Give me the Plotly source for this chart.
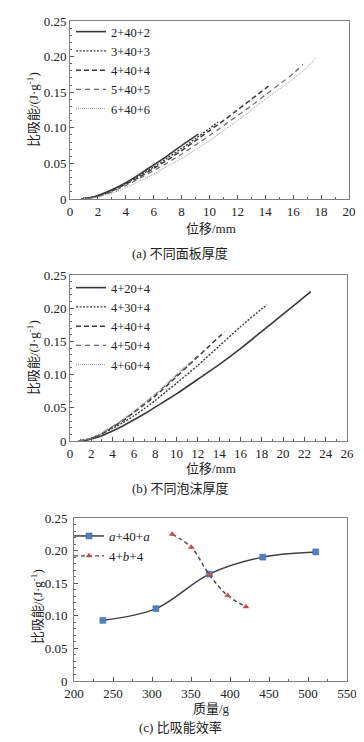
import plotly.graph_objects as go

# page is rendered with an 8px body margin: design in page pixels, convert to figure coords
OFF = 8
W, H = 364 - OFF, 742 - OFF

# ---------------- data: (a) different face-sheet thickness ----------------
a_names = ["2+40+2", "3+40+3", "4+40+4", "5+40+5", "6+40+6"]
a_x1 = [0.8, 1.5, 2, 3, 4, 5, 6, 7, 8, 9.2]
a_y1 = [0, 0.002, 0.005, 0.013, 0.023, 0.035, 0.048, 0.061, 0.075, 0.091]
a_x2 = [0.8, 1.5, 2, 3, 4, 5, 6, 7, 8, 9, 10, 10.6]
a_y2 = [0, 0.002, 0.004, 0.012, 0.022, 0.033, 0.045, 0.058, 0.071, 0.085, 0.099, 0.108]
a_x3 = [0.8, 1.5, 2, 3, 4, 5, 6, 7, 8, 9, 10, 11, 12, 13, 14, 14.4]
a_y3 = [0, 0.002, 0.004, 0.011, 0.021, 0.031, 0.043, 0.055, 0.068, 0.082, 0.096, 0.110, 0.125, 0.140, 0.155, 0.161]
a_x4 = [0.8, 1.5, 2, 3, 4, 5, 6, 7, 8, 9, 10, 11, 12, 13, 14, 15, 16, 16.7]
a_y4 = [0, 0.0015, 0.0035, 0.010, 0.019, 0.029, 0.040, 0.051, 0.063, 0.076, 0.089, 0.103, 0.117, 0.131, 0.146, 0.161, 0.176, 0.189]
a_x5 = [0.8, 1.5, 2, 3, 4, 5, 6, 7, 8, 9, 10, 11, 12, 13, 14, 15, 16, 17, 17.6]
a_y5 = [0, 0.001, 0.003, 0.008, 0.016, 0.025, 0.035, 0.046, 0.057, 0.069, 0.082, 0.096, 0.110, 0.125, 0.140, 0.154, 0.169, 0.185, 0.198]

# ---------------- data: (b) different foam thickness ----------------
b_names = ["4+20+4", "4+30+4", "4+40+4", "4+50+4", "4+60+4"]
b_x1 = [0.8, 1.5, 2, 3, 4, 5, 6, 7, 8, 9, 10, 12, 14, 16, 18, 20, 22, 22.6]
b_y1 = [0, 0.001, 0.003, 0.008, 0.015, 0.023, 0.032, 0.041, 0.051, 0.061, 0.071, 0.093, 0.115, 0.139, 0.165, 0.191, 0.217, 0.225]
b_x2 = [0.8, 1.5, 2, 3, 4, 5, 6, 7, 8, 9, 10, 12, 14, 16, 18, 18.5]
b_y2 = [0, 0.0015, 0.004, 0.011, 0.019, 0.028, 0.038, 0.049, 0.061, 0.074, 0.087, 0.114, 0.143, 0.172, 0.199, 0.205]
b_x3 = [0.8, 1.5, 2, 3, 4, 5, 6, 7, 8, 9, 10, 11, 12, 13, 14, 14.5]
b_y3 = [0, 0.002, 0.004, 0.011, 0.021, 0.031, 0.043, 0.055, 0.068, 0.082, 0.097, 0.112, 0.127, 0.142, 0.157, 0.164]
b_x4 = [0.8, 1.5, 2, 3, 4, 5, 6, 7, 8, 9, 10, 11, 12]
b_y4 = [0, 0.002, 0.004, 0.012, 0.022, 0.032, 0.044, 0.057, 0.070, 0.084, 0.099, 0.113, 0.128]
b_x5 = [0.8, 1.5, 2, 3, 4, 5, 6, 7, 8, 9, 10, 11.2]
b_y5 = [0, 0.002, 0.004, 0.012, 0.022, 0.033, 0.045, 0.058, 0.071, 0.086, 0.101, 0.118]

# ---------------- data: (c) specific energy absorption efficiency ----------------
c_mass_a = [237, 305, 373.5, 442, 510]
c_sea_a = [0.093, 0.111, 0.164, 0.190, 0.198]
c_mass_b = [326, 350.4, 373.5, 397, 420.5]
c_sea_b = [0.225, 0.205, 0.163, 0.131, 0.114]

y_tickvals = [0, 0.05, 0.10, 0.15, 0.20, 0.25]
y_ticktext = ["0", "0.05", "0.10", "0.15", "0.20", "0.25"]
a_xticks = list(range(0, 21, 2))
b_xticks = list(range(0, 27, 2))
c_xticks = list(range(200, 551, 50))

captions = ["(a) 不同面板厚度", "(b) 不同泡沫厚度", "(c) 比吸能效率"]
xtitles = ["位移/mm", "位移/mm", "质量/g"]
ytitle = "比吸能/(J·g<sup>-1</sup>)"

SERIF = "Liberation Serif, Times New Roman, Noto Sans CJK SC, serif"
styles = [
    dict(color="#3a3a3a", width=1.6, dash="solid"),
    dict(color="#3a3a3a", width=1.4, dash="2px,1.5px"),
    dict(color="#3a3a3a", width=1.5, dash="5px,3px"),
    dict(color="#6a6a6a", width=1.2, dash="5px,4px"),
    dict(color="#9a9a9a", width=1.0, dash="1px,1px"),
]


def fx(p):
    return (p - OFF) / W


def fy(p):
    return 1 - (p - OFF) / H


fig = go.Figure()

a_data = [(a_x1, a_y1), (a_x2, a_y2), (a_x3, a_y3), (a_x4, a_y4), (a_x5, a_y5)]
for name, (xs, ys), st in zip(a_names, a_data, styles):
    fig.add_trace(go.Scatter(x=xs, y=ys, name=name, mode="lines", line=dict(shape="spline", smoothing=0.6, **st),
                             xaxis="x", yaxis="y", legend="legend"))

b_data = [(b_x1, b_y1), (b_x2, b_y2), (b_x3, b_y3), (b_x4, b_y4), (b_x5, b_y5)]
for name, (xs, ys), st in zip(b_names, b_data, styles):
    fig.add_trace(go.Scatter(x=xs, y=ys, name=name, mode="lines", line=dict(shape="spline", smoothing=0.6, **st),
                             xaxis="x2", yaxis="y2", legend="legend2"))

fig.add_trace(go.Scatter(x=c_mass_a, y=c_sea_a, name="<i>a</i>+40+<i>a</i>", mode="lines+markers",
                         line=dict(shape="spline", color="#404040", width=1.5),
                         marker=dict(symbol="square", size=6, color="#4f81bd", line=dict(color="#3a6ea5", width=0.5)),
                         xaxis="x3", yaxis="y3", legend="legend3"))
fig.add_trace(go.Scatter(x=c_mass_b, y=c_sea_b, name="4+<i>b</i>+4", mode="lines+markers",
                         line=dict(shape="spline", color="#4d4545", width=1.4, dash="4px,3px"),
                         marker=dict(symbol="triangle-up", size=6, color="#c0504d"),
                         xaxis="x3", yaxis="y3", legend="legend3"))

axis_common = dict(showline=True, mirror=True, linecolor="#7f7f7f", linewidth=1, ticks="inside",
                   ticklen=4, tickcolor="#555", showgrid=False, zeroline=False, automargin=False,
                   tickfont=dict(family=SERIF, size=13, color="#222"))


def yax(top, bot, anchor, standoff=0):
    return dict(axis_common, domain=[fy(bot), fy(top)], anchor=anchor, range=[0, 0.25], tickvals=y_tickvals,
                ticktext=y_ticktext, ticklabelstandoff=standoff,
                minor=dict(ticks="inside", ticklen=2, dtick=0.01, tickcolor="#666"))


leg_common = dict(xanchor="left", yanchor="top", bgcolor="rgba(0,0,0,0)", itemwidth=30)

fig.update_layout(
    width=W, height=H, margin=dict(l=0, r=0, t=0, b=0, pad=0, autoexpand=False),
    paper_bgcolor="white", plot_bgcolor="white",
    font=dict(family=SERIF, size=12, color="#222"),
    xaxis=dict(axis_common, domain=[fx(70), fx(349)], anchor="y", range=[0, 20], tickvals=a_xticks,
               minor=dict(ticks="inside", ticklen=2, dtick=1, tickcolor="#666")),
    yaxis=yax(21, 199, "x"),
    xaxis2=dict(axis_common, domain=[fx(70), fx(347)], anchor="y2", range=[0, 26], tickvals=b_xticks,
                minor=dict(ticks="inside", ticklen=2, dtick=1, tickcolor="#666")),
    yaxis2=yax(275, 441, "x2"),
    xaxis3=dict(axis_common, domain=[fx(74), fx(347)], anchor="y3", range=[200, 550], tickvals=c_xticks,
                minor=dict(ticks="inside", ticklen=2, dtick=25, tickcolor="#666")),
    yaxis3=yax(518, 681, "x3", standoff=3),
    legend=dict(leg_common, x=fx(71), y=fy(17), font=dict(family=SERIF, size=12.5, color="#222")),
    legend2=dict(leg_common, x=fx(71), y=fy(273), font=dict(family=SERIF, size=12.5, color="#222")),
    legend3=dict(leg_common, x=fx(69), y=fy(521), font=dict(family=SERIF, size=13, color="#222")),
)

annos = []
cap_y = [253, 488, 727]
xt_y = [228, 468, 708]
yt_y = [110, 358, 607]
yt_x = [33, 33, 37]
for i in range(3):
    annos.append(dict(text=captions[i], x=fx(180), y=fy(cap_y[i]), xref="paper", yref="paper",
                      xanchor="center", yanchor="middle",
                      showarrow=False, font=dict(family=SERIF, size=13, color="#222")))
    annos.append(dict(text=xtitles[i], x=fx(211), y=fy(xt_y[i]), xref="paper", yref="paper",
                      xanchor="center", yanchor="middle",
                      showarrow=False, font=dict(family=SERIF, size=13, color="#222")))
    annos.append(dict(text=ytitle, x=fx(yt_x[i]), y=fy(yt_y[i]), xref="paper", yref="paper",
                      xanchor="center", yanchor="middle",
                      showarrow=False, textangle=-90, font=dict(family=SERIF, size=13, color="#222")))
fig.update_layout(annotations=annos)

fig.write_html("out.html")
